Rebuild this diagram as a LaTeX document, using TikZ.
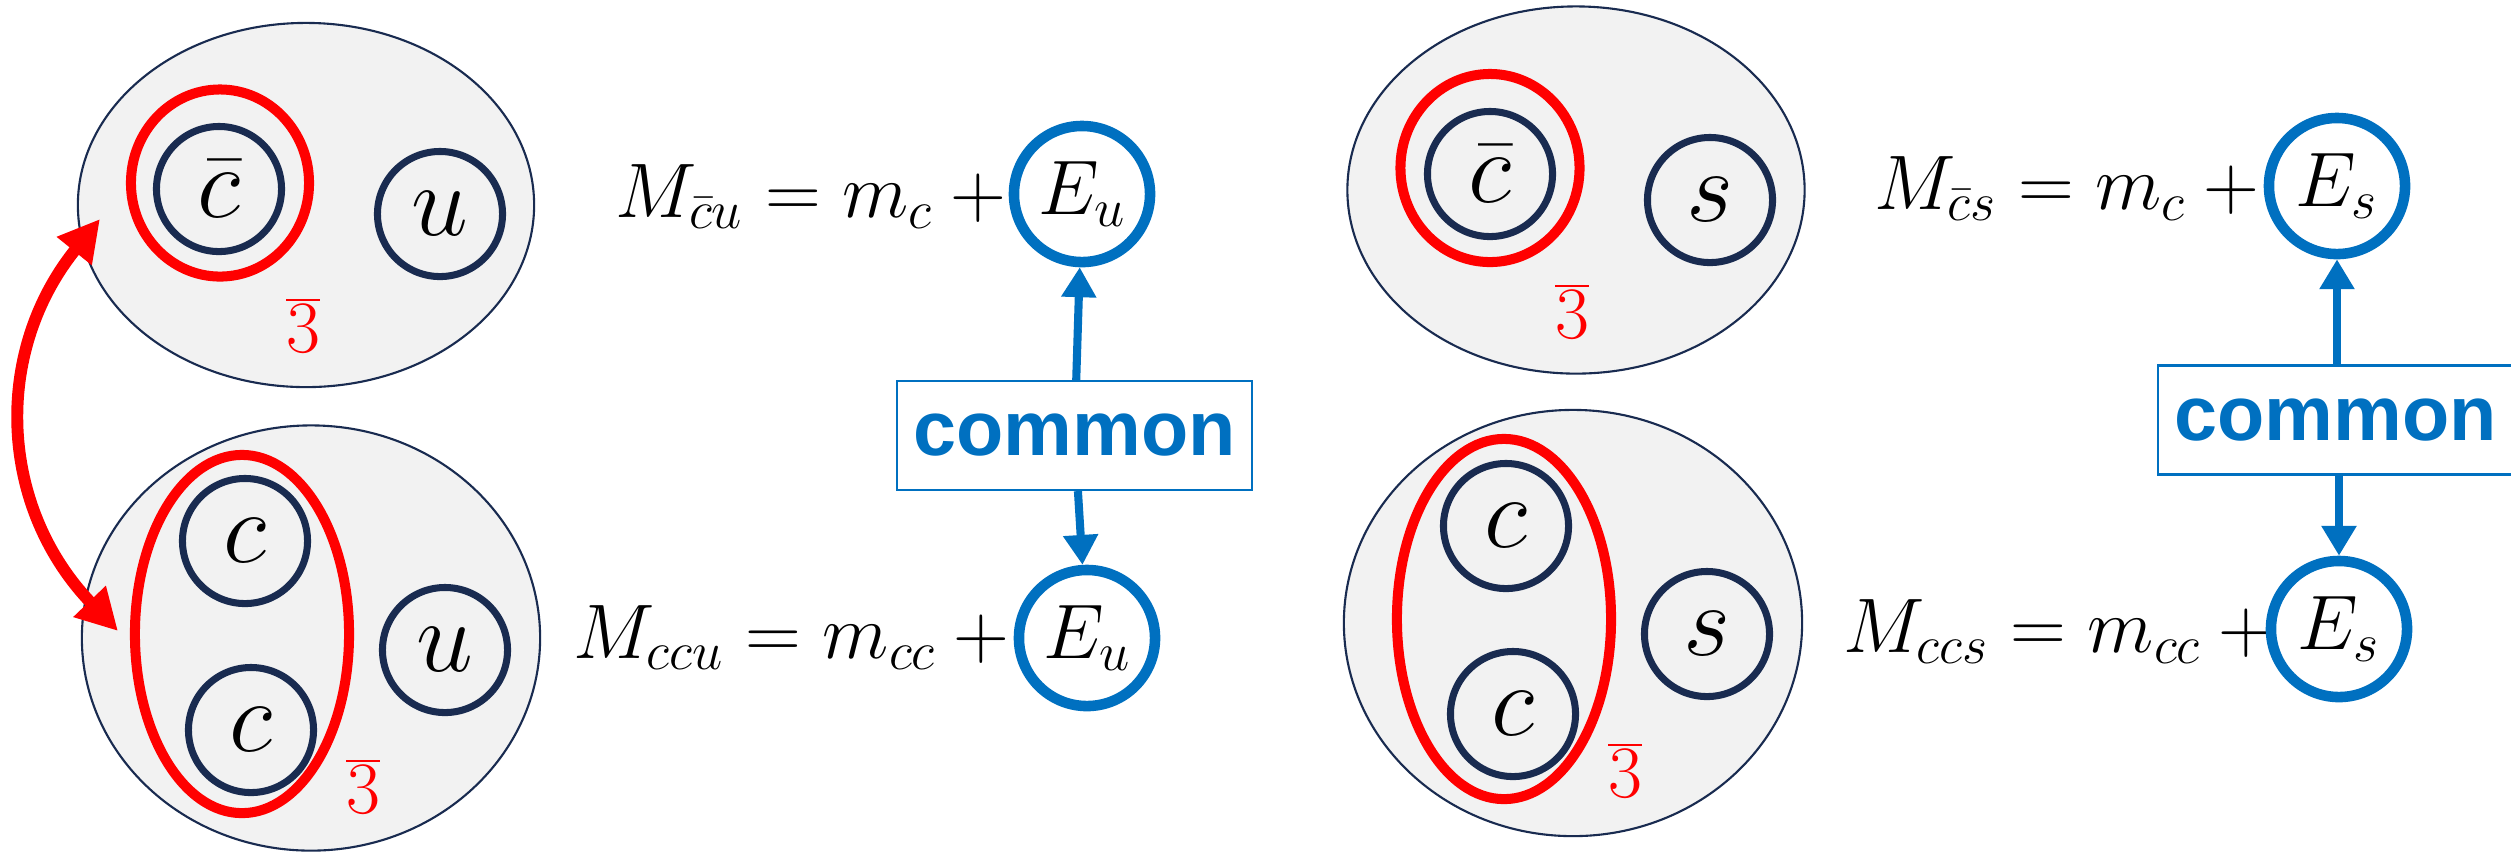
\RequirePackage{fix-cm}
\documentclass[tikz,border=0pt]{standalone}
\usepackage[no-math]{fontspec}
\newfontfamily\cmnfont{Liberation Sans}
\usetikzlibrary{shapes.geometric,arrows.meta}

\definecolor{navy}{HTML}{192B50}
\definecolor{qred}{HTML}{FF0000}
\definecolor{eblue}{HTML}{0070C0}
\definecolor{hfill}{HTML}{F2F2F2}

\tikzset{
  hadron/.style={ellipse, draw=navy, fill=hfill, line width=0.6pt, inner sep=0pt},
  diq/.style={ellipse, draw=qred, line width=2.85pt, inner sep=0pt},
  quark/.style={circle, draw=navy, line width=2pt, minimum size=1.25cm, inner sep=0pt,
    font=\fontsize{29}{32}\selectfont},
  ecirc/.style={circle, draw=eblue, line width=3pt, minimum size=1.36cm, inner sep=0pt,
    font=\fontsize{22}{26}\selectfont},
  eqn/.style={anchor=base east, inner sep=0pt, font=\fontsize{22}{26}\selectfont},
  rep/.style={text=qred, inner sep=0pt, font=\fontsize{21}{24}\selectfont},
  cbox/.style={draw=eblue, line width=0.6pt, minimum width=3.55cm, minimum height=1.09cm,
    inner sep=0pt, text=eblue, font=\cmnfont\bfseries\fontsize{22}{26}\selectfont},
  link/.style={draw=eblue, line width=2.3pt, -{Triangle[length=8.5pt,width=9.5pt]}},
  swaparrow/.style={draw=qred, line width=3.4pt,
    {Triangle[length=11.7pt,width=12pt]}-{Triangle[length=11.7pt,width=12pt]}},
}

\begin{document}
\begin{tikzpicture}[x=0.01cm, y=-0.01cm]
\useasboundingbox (0,0) rectangle (2511,853);

% ---- anti-charm + u meson ----
\node[hadron, minimum width=4.56cm, minimum height=3.64cm] (mesA) at (306,205) {};
\node[diq, minimum width=1.78cm, minimum height=1.87cm] (redA) at (220,183) {};
\node[quark] (cbA) at (219,189) {$\bar{c}$};
\node[quark] (uA) at (440,214) {$u$};
\node[rep] (repA) at (303,325) {$\overline{3}$};

% ---- cc + u baryon ----
\node[hadron, minimum width=4.58cm, minimum height=4.25cm] (barB) at (311,638) {};
\node[diq, minimum width=2.14cm, minimum height=3.58cm] (redB) at (242,634) {};
\node[quark] (c1B) at (245,541) {$c$};
\node[quark] (c2B) at (251,730) {$c$};
\node[quark] (uB) at (445,650) {$u$};
\node[rep] (repB) at (363,786) {$\overline{3}$};

% ---- anti-charm + s meson ----
\node[hadron, minimum width=4.57cm, minimum height=3.67cm] (mesC) at (1576,190) {};
\node[diq, minimum width=1.79cm, minimum height=1.88cm] (redC) at (1490,168) {};
\node[quark] (cbC) at (1490,174) {$\bar{c}$};
\node[quark] (sC) at (1710,200) {$s$};
\node[rep] (repC) at (1572,311) {$\overline{3}$};

% ---- cc + s baryon ----
\node[hadron, minimum width=4.58cm, minimum height=4.26cm] (barD) at (1573,623) {};
\node[diq, minimum width=2.14cm, minimum height=3.60cm] (redD) at (1504,619) {};
\node[quark] (c1D) at (1506,526) {$c$};
\node[quark] (c2D) at (1513,714) {$c$};
\node[quark] (sD) at (1707,634) {$s$};
\node[rep] (repD) at (1625,770) {$\overline{3}$};

% ---- mass formulas ----
\node[eqn] (eqA) at (1007,217) {$M_{\bar{c}u} = m_c \mskip\medmuskip +$};
\node[ecirc] (EA) at (1082,194) {$E_u$};
\node[eqn] (eqB) at (1010,658) {$M_{ccu} = m_{cc} \mskip\medmuskip +$};
\node[ecirc] (EB) at (1087,638) {$E_u$};
\node[eqn] (eqC) at (2260,209) {$M_{\bar{c}s} = m_c \mskip\medmuskip +$};
\node[ecirc] (EC) at (2337,186) {$E_s$};
\node[eqn] (eqD) at (2275,652) {$M_{ccs} = m_{cc} \mskip\medmuskip +$};
\node[ecirc] (ED) at (2339,629) {$E_s$};

% ---- shared light-quark energies ----
\node[cbox] (boxL) at (1074.5,435.5) {common};
\node[cbox, minimum width=3.66cm] (boxR) at (2341,420) {\hspace*{-0.11cm}common};
\draw[link] (boxL) -- (EA);
\draw[link] (boxL) -- (EB);
\draw[link] (boxR.north -| EC) -- (EC);
\draw[link] (boxR.south -| ED) -- (ED);

% ---- diquark / antiquark correspondence ----
\coordinate (tipA) at (100,219);
\coordinate (tipB) at (118,631);
\draw[swaparrow] (tipA) .. controls (-8,353) and (-1,507) .. (tipB);
\end{tikzpicture}
\end{document}
